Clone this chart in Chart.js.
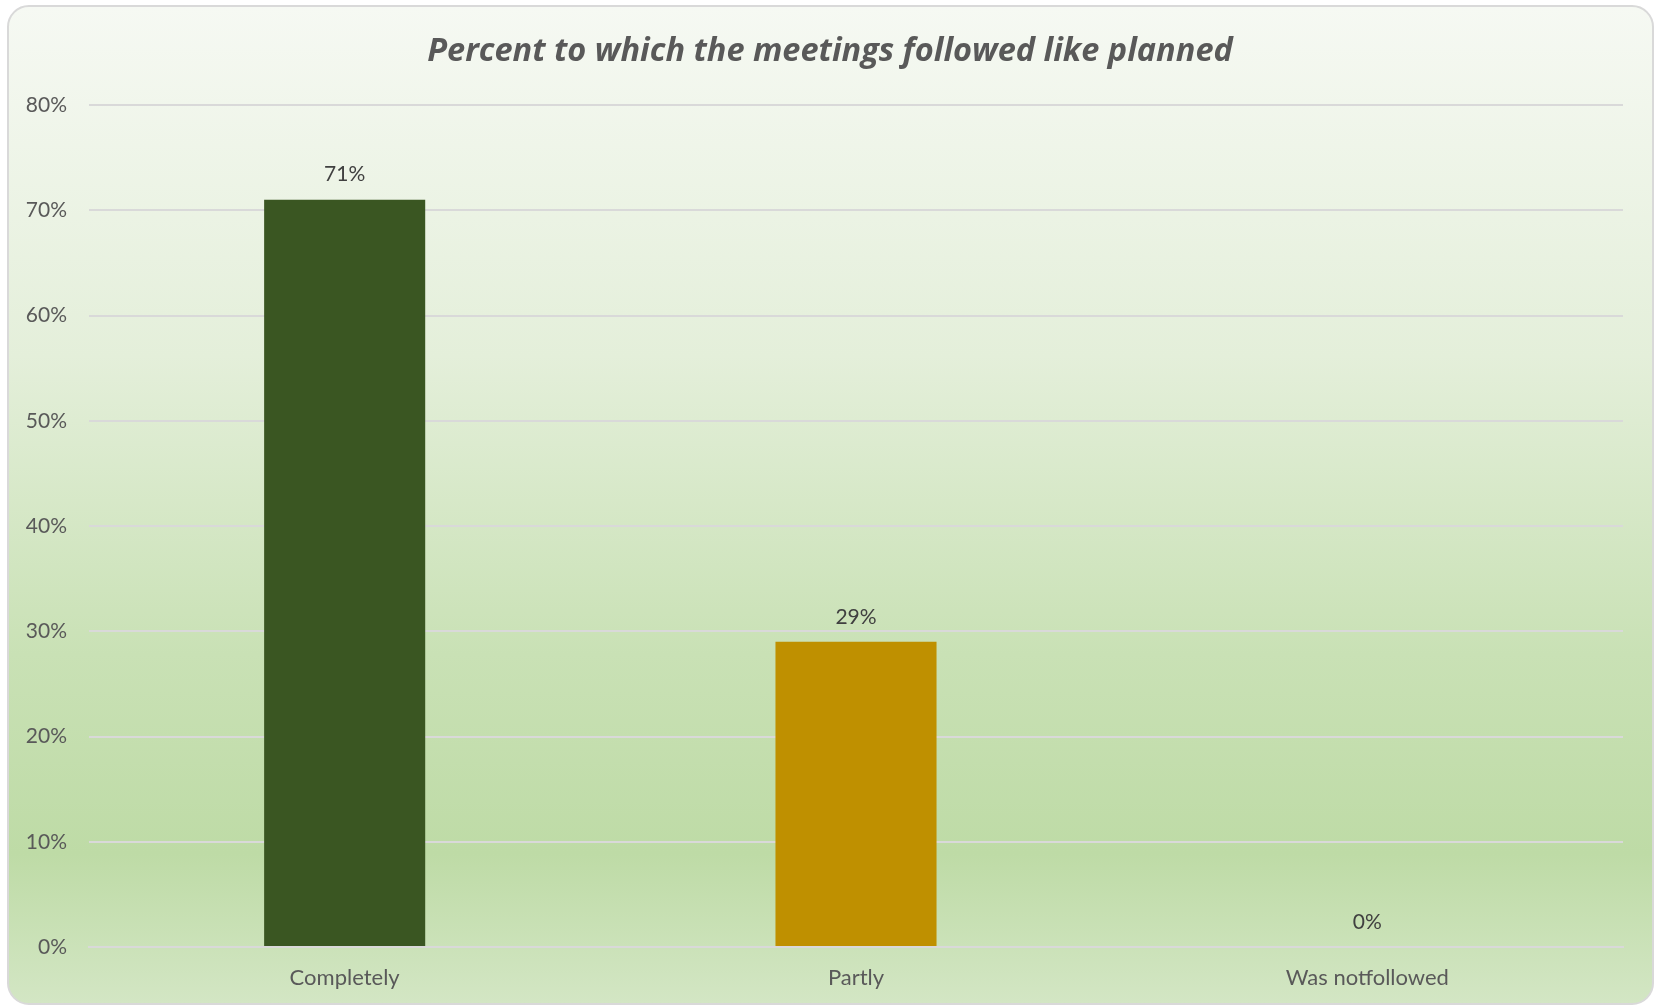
<!DOCTYPE html>
<html>
<head>
<meta charset="utf-8">
<script src="https://cdn.jsdelivr.net/npm/chart.js@4.4.1/dist/chart.umd.min.js"></script>
<style>
  html, body { margin: 0; padding: 0; background: #ffffff; overflow: hidden; }
  #card {
    position: absolute; left: 7px; top: 5px; width: 1643px; height: 996px;
    border: 2px solid #d9d9d9; border-radius: 22px;
    background: linear-gradient(to bottom, #f6f9f3 0%, #e4efda 35%, #c9e1b5 65%, #bedba6 85%, #d3e6c4 100%);
  }
  #meetings { position: absolute; left: 0; top: 0; }
</style>
</head>
<body>
<div id="card"></div>
<canvas id="meetings" width="1657" height="1005"></canvas>
<script>
  const categories = ["Completely", "Partly", "Was notfollowed"];
  const percents = [71, 29, 0];
  const barColors = ["#3a5622", "#bf9000", "#7f7f7f"];
  const yTicks = [0, 10, 20, 30, 40, 50, 60, 70, 80];

  const fontFamily = "Lato, 'Open Sans', sans-serif";
  const titleFamily = "'Open Sans', Lato, sans-serif";

  // writes the percentage above each bar
  const valueLabels = {
    id: "valueLabels",
    afterDatasetsDraw(chart) {
      const ctx = chart.ctx;
      const meta = chart.getDatasetMeta(0);
      ctx.save();
      ctx.font = "21px " + fontFamily;
      ctx.fillStyle = "#404040";
      ctx.textAlign = "center";
      ctx.textBaseline = "middle";
      meta.data.forEach(function (bar, i) {
        ctx.fillText(percents[i] + "%", bar.x, bar.y - 25);
      });
      ctx.restore();
    }
  };

  // title sits centred on the card, not on the canvas minus the right gap
  const titleShift = {
    id: "titleShift",
    afterLayout(chart) {
      if (chart.titleBlock) chart.titleBlock.left = 37;
    }
  };

  new Chart(document.getElementById("meetings"), {
    type: "bar",
    data: {
      labels: categories,
      datasets: [{
        data: percents,
        backgroundColor: barColors,
        borderWidth: 0,
        categoryPercentage: 1,
        barPercentage: 0.315
      }]
    },
    plugins: [valueLabels, titleShift],
    options: {
      responsive: false,
      animation: false,
      devicePixelRatio: 1,
      layout: { padding: { left: 0, right: 34, top: 0, bottom: 0 } },
      plugins: {
        legend: { display: false },
        tooltip: { enabled: false },
        title: {
          display: true,
          text: "Percent to which the meetings followed like planned",
          color: "#595959",
          font: { family: titleFamily, size: 32.5, style: "italic", weight: "bold", lineHeight: 1.2 },
          padding: { top: 32, bottom: 34 }
        }
      },
      scales: {
        x: {
          grid: { display: false, drawTicks: false },
          border: { display: true, color: "#d9d9d9", width: 2 },
          ticks: { color: "#595959", font: { family: fontFamily, size: 22 }, padding: 18, maxRotation: 0 },
          afterFit(scale) { scale.height = 58; }
        },
        y: {
          min: 0,
          max: 80,
          afterBuildTicks(scale) { scale.ticks = yTicks.map(v => ({ value: v })); },
          grid: { color: "#d9d9d9", lineWidth: 2, drawTicks: false },
          border: { display: false },
          ticks: {
            color: "#595959",
            font: { family: fontFamily, size: 21 },
            padding: 22,
            callback: v => v + "%"
          },
          afterFit(scale) { scale.width = 89; }
        }
      }
    }
  });
</script>
</body>
</html>
